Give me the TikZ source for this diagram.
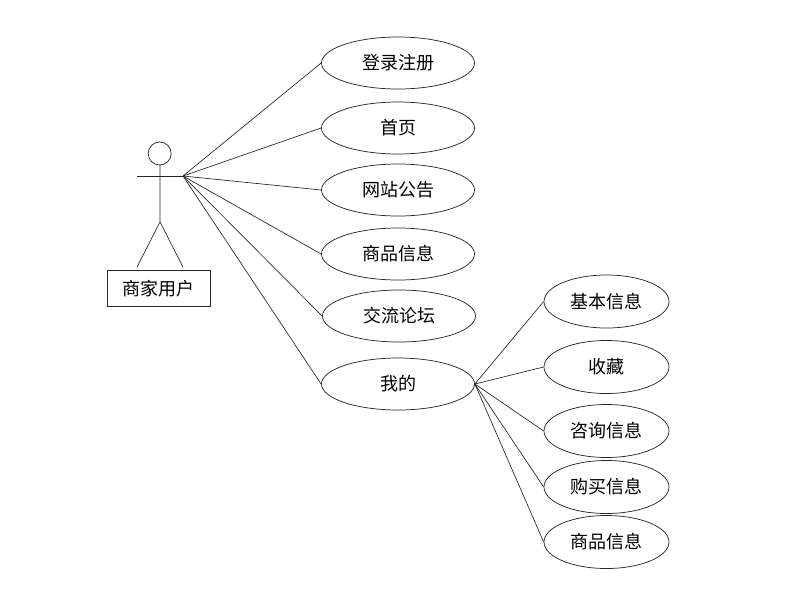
\documentclass[tikz,border=0pt]{standalone}
\usepackage{fontspec}
\setmainfont{Noto Sans CJK SC}
\usetikzlibrary{shapes.geometric}
\newdimen\u
\u=0.75pt
\tikzset{
  uc/.style={draw=black!85,ellipse,line width=0.55pt,minimum width=153\u,minimum height=52\u,inner sep=0pt,font=\fontsize{13.5pt}{15pt}\selectfont},
  ub/.style={uc,minimum width=125\u,minimum height=53\u},
  ln/.style={draw=black!85,line width=0.5pt},
}
\begin{document}
\begin{tikzpicture}[x=0.75pt,y=-0.75pt]
\useasboundingbox (0,0) rectangle (806,593);
\node[uc] (a1) at (398,63) {登录注册};
\node[uc] (a2) at (398,128) {首页};
\node[uc] (a3) at (398,190) {网站公告};
\node[uc] (a4) at (398,254) {商品信息};
\node[uc] (a5) at (399,316) {交流论坛};
\node[uc] (a6) at (398,384) {我的};
\node[ub] (b1) at (606.5,301.5) {基本信息};
\node[ub] (b2) at (606.5,367) {收藏};
\node[ub] (b3) at (606.5,431) {咨询信息};
\node[ub] (b4) at (606.5,487) {购买信息};
\node[ub] (b5) at (606.5,542) {商品信息};
\node[draw=black!85,line width=0.55pt,minimum width=103\u,minimum height=36\u,inner sep=0pt,font=\fontsize{13.5pt}{15pt}\selectfont] (lbl) at (158.5,288.5) {商家用户};
\node[draw=black!85,circle,line width=0.55pt,minimum size=23\u,inner sep=0pt] (head) at (159.7,153.5) {};
\coordinate (neck) at (160,165);
\coordinate (hub) at (160,176);
\coordinate (hipL) at (137,176);
\coordinate (hipR) at (183,176);
\coordinate (waist) at (160,222);
\coordinate (footL) at (137,267);
\coordinate (footR) at (183,267);
\draw[ln] (neck) -- (waist) -- (footL);
\draw[ln] (waist) -- (footR);
\draw[ln] (hipL) -- (hipR);
\foreach \n in {a1,a2,a3,a4,a5,a6} \draw[ln] (hipR) -- (\n.west);
\foreach \n in {b1,b2,b3,b4,b5} \draw[ln] (a6.east) -- (\n.west);
\end{tikzpicture}
\end{document}
